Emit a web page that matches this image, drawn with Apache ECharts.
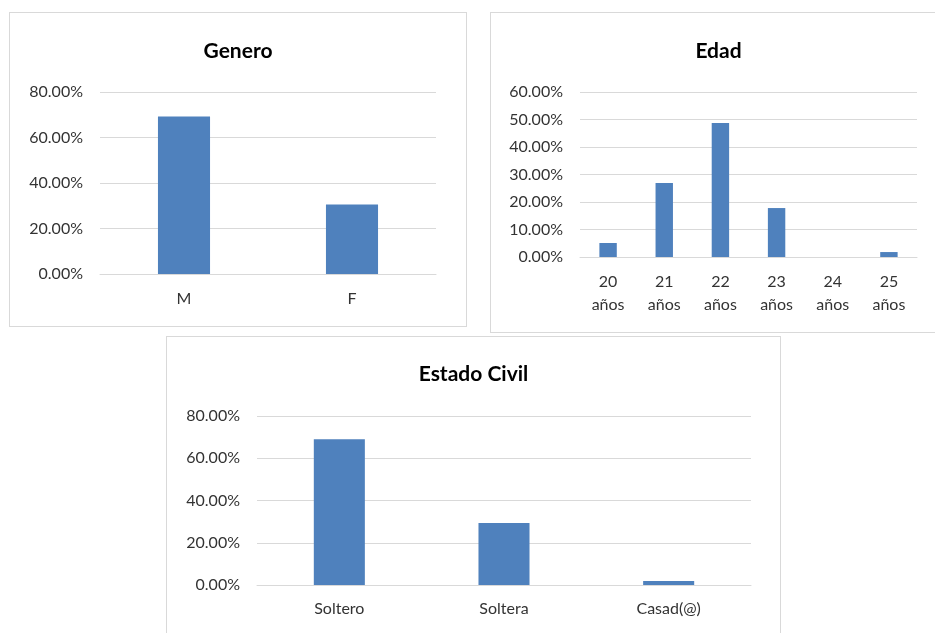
<!DOCTYPE html>
<html>
<head>
<meta charset="utf-8">
<script src="https://cdn.jsdelivr.net/npm/echarts@6/dist/echarts.min.js"></script>
<style>
  html, body { margin: 0; padding: 0; background: #fff; overflow: hidden; }
  body { width: 935px; height: 633px; position: relative; }
  .box { position: absolute; border: 1px solid #d9d9d9; box-sizing: border-box; background: #fff; }
</style>
</head>
<body>
<div id="genero" class="box" style="left:9px; top:12px; width:458px; height:315px;"></div>
<div id="edad" class="box" style="left:490px; top:12px; width:457px; height:321px;"></div>
<div id="estado" class="box" style="left:166px; top:336px; width:615px; height:306px;"></div>

<script>
// Genero
const generoCats = ["M", "F"];
const generoVals = [69.2, 30.6];

// Edad
const edadCats = ["20\naños", "21\naños", "22\naños", "23\naños", "24\naños", "25\naños"];
const edadVals = [5.1, 26.9, 48.7, 17.8, 0, 1.8];

// Estado Civil
const estadoCats = ["Soltero", "Soltera", "Casad(@)"];
const estadoVals = [69.0, 29.3, 1.9];

const FONT = "Lato, 'Open Sans', sans-serif";
const BAR = "#4f81bd";
const GRID_LINE = "#d9d9d9";
const TXT = "#333333";

// opciones comunes de un grafico de barras
function barOption(title, cats, vals, max, interval, grid, titleTop, lineHeight, xMargin) {
  return {
    animation: false,
    title: {
      text: title,
      left: "center",
      top: titleTop,
      textStyle: { fontFamily: FONT, fontSize: 21, fontWeight: "bold", color: "#000" },
    },
    grid: grid,
    xAxis: {
      type: "category",
      data: cats,
      axisTick: { show: false },
      axisLine: { lineStyle: { color: GRID_LINE, width: 1 } },
      axisLabel: {
        color: TXT,
        fontFamily: FONT,
        fontSize: 16,
        margin: xMargin,
        lineHeight: lineHeight,
        interval: 0,
      },
    },
    yAxis: {
      type: "value",
      min: 0,
      max: max,
      interval: interval,
      axisLine: { show: false },
      axisTick: { show: false },
      splitLine: { lineStyle: { color: GRID_LINE, width: 1 } },
      axisLabel: {
        color: TXT,
        fontFamily: FONT,
        fontSize: 16,
        margin: 17,
        formatter: (v) => v.toFixed(2) + "%",
      },
    },
    series: [
      {
        type: "bar",
        data: vals,
        barWidth: "31%",
        itemStyle: { color: BAR },
      },
    ],
  };
}

const charts = [];

const c1 = echarts.init(document.getElementById("genero"));
c1.setOption(
  barOption("Genero", generoCats, generoVals, 80, 20,
    { left: 90, right: 30, top: 79, bottom: 52 }, 23, 18, 16)
);
charts.push(c1);

const c2 = echarts.init(document.getElementById("edad"));
c2.setOption(
  barOption("Edad", edadCats, edadVals, 60, 10,
    { left: 89, right: 29, top: 79, bottom: 75 }, 23, 23, 13)
);
charts.push(c2);

const c3 = echarts.init(document.getElementById("estado"));
c3.setOption(
  barOption("Estado Civil", estadoCats, estadoVals, 80, 20,
    { left: 90, right: 29, top: 79, bottom: 56 }, 22, 18, 15)
);
charts.push(c3);

window.addEventListener("resize", () => {
  charts.forEach((c) => c.resize());
});
</script>
</body>
</html>
